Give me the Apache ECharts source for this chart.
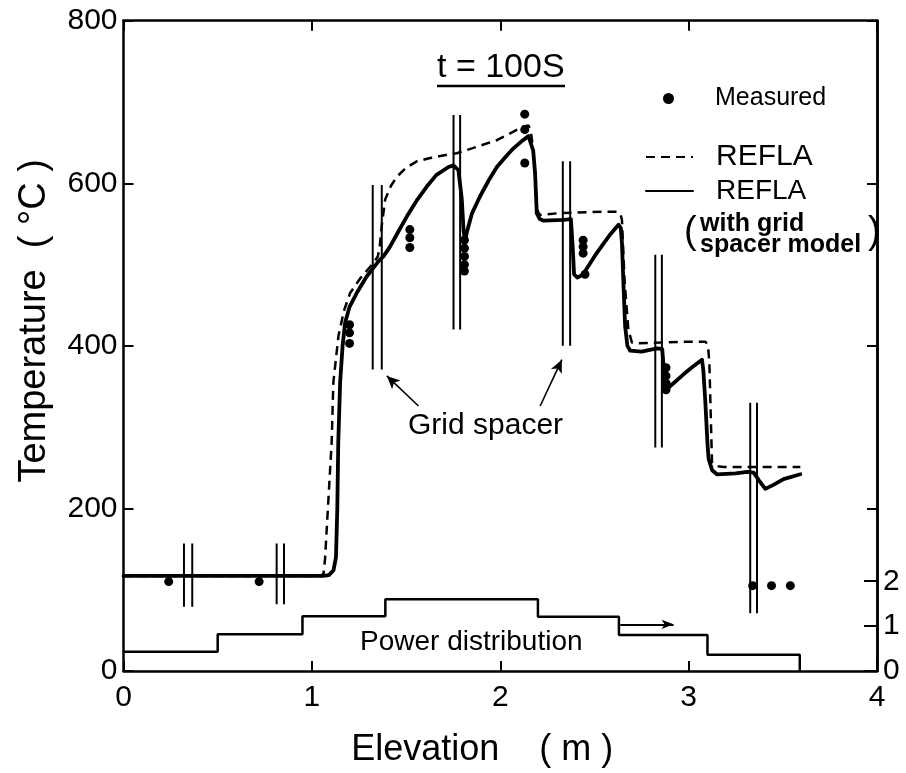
<!DOCTYPE html>
<html>
<head>
<meta charset="utf-8">
<script src="https://cdn.jsdelivr.net/npm/echarts@6/dist/echarts.min.js"></script>
<style>
  html, body { margin: 0; padding: 0; background: #fff; }
  #chart { width: 906px; height: 773px; }
</style>
</head>
<body>
<div id="chart"></div>
<script>
// Cladding temperature along the heated length at t = 100 s

// Measured thermocouple readings: [elevation (m), temperature (°C)]
const measured = [
  [0.24, 110], [0.72, 110],
  [1.20, 426], [1.20, 416], [1.20, 403],
  [1.52, 543], [1.52, 533], [1.52, 521],
  [1.81, 530], [1.81, 520], [1.81, 510], [1.81, 500], [1.81, 492],
  [2.13, 685], [2.13, 666], [2.13, 625],
  [2.44, 530], [2.44, 522], [2.44, 514], [2.45, 488],
  [2.88, 373], [2.88, 363], [2.88, 354], [2.88, 346],
  [3.34, 105], [3.44, 105], [3.54, 105]
];

// REFLA calculation without the grid spacer model
const reflaCurve = [
  [0, 117], [1.05, 117], [1.062, 120], [1.07, 138], [1.088, 212], [1.105, 281],
  [1.114, 355], [1.141, 412], [1.17, 443], [1.203, 465], [1.26, 484], [1.327, 502],
  [1.35, 510], [1.36, 522], [1.372, 550], [1.389, 580], [1.42, 597], [1.451, 608],
  [1.5, 619], [1.557, 627], [1.628, 631], [1.716, 635], [1.769, 637], [1.85, 643],
  [1.982, 653], [2.05, 661], [2.123, 670], [2.15, 671], [2.162, 665], [2.175, 640],
  [2.185, 612], [2.194, 568], [2.21, 561], [2.3, 563], [2.407, 564], [2.55, 565],
  [2.62, 565], [2.638, 562], [2.646, 555], [2.66, 480], [2.68, 420], [2.699, 404],
  [2.72, 403], [2.85, 404], [2.955, 405], [3.09, 405], [3.103, 400], [3.11, 380],
  [3.124, 257], [3.15, 252], [3.185, 251], [3.593, 251]
];

// REFLA calculation with the grid spacer model
const reflaSpacerCurve = [
  [0, 117], [1.06, 117], [1.09, 118], [1.115, 124], [1.128, 140], [1.135, 200],
  [1.14, 280], [1.15, 355], [1.163, 400], [1.176, 428], [1.2, 448], [1.238, 465],
  [1.29, 485], [1.353, 504], [1.38, 510], [1.415, 522], [1.46, 541], [1.504, 559],
  [1.56, 580], [1.61, 596], [1.66, 610], [1.725, 620], [1.752, 622], [1.778, 616],
  [1.796, 580], [1.805, 543], [1.813, 527], [1.822, 539], [1.85, 563], [1.893, 584],
  [1.94, 604], [1.982, 620], [2.03, 633], [2.07, 643], [2.11, 651], [2.15, 658],
  [2.16, 660], [2.175, 640], [2.185, 612], [2.194, 563], [2.21, 556], [2.23, 554],
  [2.336, 555], [2.375, 556], [2.385, 520], [2.392, 488], [2.41, 484], [2.44, 488],
  [2.5, 510], [2.53, 520], [2.58, 536], [2.628, 549], [2.64, 545], [2.646, 527],
  [2.655, 470], [2.663, 424], [2.675, 400], [2.69, 394], [2.75, 393], [2.832, 397],
  [2.86, 396], [2.867, 375], [2.876, 345], [2.9, 350], [2.973, 365], [3.02, 374],
  [3.071, 383], [3.078, 370], [3.088, 334], [3.1, 280], [3.106, 261], [3.125, 247],
  [3.15, 242], [3.25, 243], [3.31, 245], [3.345, 244], [3.375, 234], [3.407, 224],
  [3.45, 229], [3.504, 236], [3.593, 242]
];

// Grid spacers: [elevation of strap 1, strap 2, lower temp, upper temp]
const spacerPairs = [
  [0.321, 0.365, 79, 157],
  [0.813, 0.852, 82, 157],
  [1.323, 1.371, 371, 598],
  [1.752, 1.787, 420, 684],
  [2.332, 2.371, 400, 627],
  [2.823, 2.858, 275, 512],
  [3.327, 3.363, 71, 330]
];

// Axial power distribution (step profile)
const powerEdges = [0, 0.5, 0.95, 1.39, 2.2, 2.63, 3.1, 3.59];
const powerLevels = [0.43, 0.82, 1.22, 1.6, 1.21, 0.8, 0.36, 0];

// Axis ticks
const elevationTicks = { min: 0, max: 4, step: 1 };
const temperatureTicks = { min: 0, max: 800, step: 200 };
const powerTickValues = [0, 1, 2];

// Annotation arrows
const spacerArrows = [
  [[1.566, 326], [1.398, 363]],
  [[2.212, 326], [2.327, 383]]
];
const powerArrow = [[2.637, 1.04], [2.92, 1.04]];

const FONT = '"Liberation Sans", Arial, sans-serif';
const POWER_AXIS_MAX = 14.49;

// Break the strap lines into separate vertical segments
const spacerSegments = [];
spacerPairs.forEach(([x1, x2, lo, hi]) => {
  [x1, x2].forEach(x => {
    spacerSegments.push([x, lo], [x, hi], [x, '-']);
  });
});

const powerData = powerEdges.map((e, i) => [e, powerLevels[i]]);

const axisLineStyle = { color: '#000', width: 2.5 };
const tickStyle = { color: '#000', width: 2 };

const chart = echarts.init(document.getElementById('chart'), null, { renderer: 'canvas' });

chart.setOption({
  animation: false,
  backgroundColor: '#fff',
  textStyle: { fontFamily: FONT, color: '#000' },
  grid: { left: 123.5, right: 29, top: 20.7, bottom: 100.3 },
  title: {
    text: 't = 100S',
    left: 432,
    top: 46,
    textStyle: { fontFamily: FONT, fontSize: 34, fontWeight: 'normal', color: '#000' }
  },
  legend: [
    {
      data: [{ name: 'Measured', icon: 'circle' }],
      left: 658, top: 81,
      itemWidth: 11, itemHeight: 11,
      formatter: name => '{gap|}' + name,
      textStyle: { fontFamily: FONT, fontSize: 25, color: '#000', rich: { gap: { width: 36 } } }
    },
    {
      data: [
        { name: 'REFLA', itemStyle: { opacity: 0 }, textStyle: { fontSize: 30 } },
        { name: 'REFLA (with grid spacer model)', itemStyle: { opacity: 0 }, textStyle: { fontSize: 28 } }
      ],
      orient: 'vertical',
      left: 640, top: 137,
      itemWidth: 47, itemHeight: 14, itemGap: 4,
      formatter: name => '{gap|}' + (name.indexOf('(') > 0 ? 'REFLA' : name),
      textStyle: { fontFamily: FONT, color: '#000', lineHeight: 30, rich: { gap: { width: 18 } } }
    }
  ],
  xAxis: [
    {
      type: 'value', position: 'bottom',
      min: elevationTicks.min, max: elevationTicks.max, interval: elevationTicks.step,
      name: 'Elevation    ( m )', nameLocation: 'middle', nameGap: 61,
      nameTextStyle: { fontFamily: FONT, fontSize: 36, color: '#000', padding: [0, 36, 0, 0] },
      axisLine: { onZero: false, lineStyle: axisLineStyle },
      axisTick: { inside: true, length: 10, lineStyle: tickStyle },
      axisLabel: { fontFamily: FONT, fontSize: 30, color: '#000', margin: 12 },
      splitLine: { show: false }
    },
    {
      type: 'value', position: 'top',
      min: elevationTicks.min, max: elevationTicks.max, interval: elevationTicks.step,
      axisLine: { onZero: false, lineStyle: axisLineStyle },
      axisTick: { inside: true, length: 10, lineStyle: tickStyle },
      axisLabel: { show: false },
      splitLine: { show: false }
    }
  ],
  yAxis: [
    {
      type: 'value', position: 'left',
      min: temperatureTicks.min, max: temperatureTicks.max, interval: temperatureTicks.step,
      name: 'Temperature  ( °C )', nameLocation: 'middle', nameRotate: 90, nameGap: 70,
      nameTextStyle: { fontFamily: FONT, fontSize: 38, color: '#000', padding: [0, 0, 0, 50] },
      axisLine: { show: true, onZero: false, lineStyle: axisLineStyle },
      axisTick: { show: true, inside: true, length: 10, lineStyle: tickStyle },
      axisLabel: { fontFamily: FONT, fontSize: 30, color: '#000', margin: 6 },
      splitLine: { show: false }
    },
    {
      type: 'value', position: 'right',
      min: temperatureTicks.min, max: temperatureTicks.max, interval: temperatureTicks.step,
      axisLine: { show: true, onZero: false, lineStyle: axisLineStyle },
      axisTick: { show: true, inside: true, length: 10, lineStyle: tickStyle },
      axisLabel: { show: false },
      splitLine: { show: false }
    },
    {
      type: 'value', position: 'right',
      min: 0, max: POWER_AXIS_MAX,
      axisLine: { show: true, onZero: false, lineStyle: axisLineStyle },
      axisTick: { show: true, inside: true, length: 13, lineStyle: tickStyle, customValues: powerTickValues },
      axisLabel: { fontFamily: FONT, fontSize: 30, color: '#000', margin: 6, customValues: powerTickValues },
      splitLine: { show: false }
    }
  ],
  series: [
    {
      name: 'Grid spacer',
      type: 'line',
      data: spacerSegments,
      symbol: 'none',
      connectNulls: false,
      lineStyle: { color: '#000', width: 2 },
      silent: true,
      z: 1,
      markLine: {
        silent: true,
        symbol: ['none', 'arrow'],
        symbolSize: [9, 13],
        label: { show: false },
        lineStyle: { color: '#000', width: 1.6, type: 'solid' },
        data: spacerArrows.map(([a, b]) => [{ coord: a }, { coord: b }])
      }
    },
    {
      name: 'REFLA',
      type: 'line',
      data: reflaCurve,
      symbol: 'none',
      itemStyle: { color: '#000' },
      lineStyle: { color: '#000', width: 2.5, type: [9, 6] },
      z: 3
    },
    {
      name: 'REFLA (with grid spacer model)',
      type: 'line',
      data: reflaSpacerCurve,
      symbol: 'none',
      itemStyle: { color: '#000' },
      lineStyle: { color: '#000', width: 3.8, join: 'round', cap: 'round' },
      z: 4
    },
    {
      name: 'Measured',
      type: 'scatter',
      data: measured,
      symbol: 'circle',
      symbolSize: 9,
      itemStyle: { color: '#000', opacity: 1 },
      z: 5
    },
    {
      name: 'Power distribution',
      type: 'line',
      yAxisIndex: 2,
      data: powerData,
      step: 'end',
      symbol: 'none',
      lineStyle: { color: '#000', width: 2.5 },
      silent: true,
      z: 2,
      markLine: {
        silent: true,
        symbol: ['none', 'arrow'],
        symbolSize: [7, 12],
        label: { show: false },
        lineStyle: { color: '#000', width: 2, type: 'solid' },
        data: [[{ coord: powerArrow[0] }, { coord: powerArrow[1] }]]
      }
    }
  ],
  graphic: [
    { type: 'line', shape: { x1: 437, y1: 86, x2: 565, y2: 86 }, style: { stroke: '#000', lineWidth: 2.5 } },
    { type: 'text', left: 408, top: 411, style: { text: 'Grid spacer', font: '30px ' + FONT, fill: '#000' } },
    { type: 'text', left: 360, top: 628, style: { text: 'Power distribution', font: '28px ' + FONT, fill: '#000' } },
    { type: 'text', left: 684, top: 214, style: { text: '(', font: '38px ' + FONT, fill: '#000' } },
    { type: 'text', left: 700, top: 212, style: { text: 'with grid', font: 'bold 25px ' + FONT, fill: '#000' } },
    { type: 'text', left: 700, top: 233, style: { text: 'spacer model', font: 'bold 25px ' + FONT, fill: '#000' } },
    { type: 'text', left: 868, top: 214, style: { text: ')', font: '38px ' + FONT, fill: '#000' } }
  ]
});
</script>
</body>
</html>
